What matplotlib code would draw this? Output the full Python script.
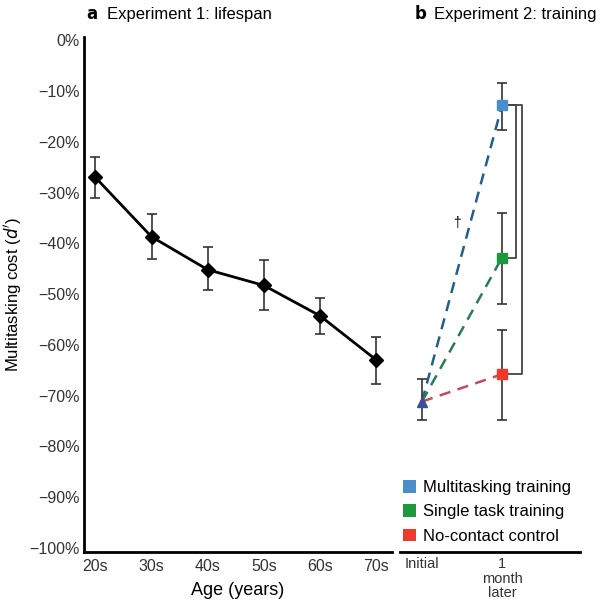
import matplotlib.pyplot as plt
from matplotlib.patches import Patch

plt.rcParams["font.family"] = ["Liberation Sans", "DejaVu Sans"]

# Experiment 1: lifespan
ages = ["20s", "30s", "40s", "50s", "60s", "70s"]
life_cost = [-27, -38.7, -45.2, -48.3, -54.3, -63]
life_err_hi = [-23, -34.2, -40.8, -43.2, -50.8, -58.5]
life_err_lo = [-31, -43, -49.2, -53.2, -57.8, -67.8]

# Experiment 2: training
phases = ["Initial", "1\nmonth\nlater"]
groups = ["Multitasking training", "Single task training", "No-contact control"]
initial_cost = -71.2
initial_err = (-66.8, -74.8)
later_cost = [-12.8, -42.8, -65.8]
later_err_hi = [-8.4, -34, -57]
later_err_lo = [-17.6, -52, -74.8]
marker_colors = ["#4a8fcb", "#1b9a3c", "#ee3a2c"]
line_colors = ["#245f8a", "#2a7a5a", "#c24b55"]

fig = plt.figure(figsize=(6.05, 6.03), dpi=100)
ax1 = fig.add_axes([0.139, 0.085, 0.509, 0.853])
ax2 = fig.add_axes([0.661, 0.085, 0.298, 0.853], sharey=ax1)

# panel a
x1 = list(range(len(ages)))
yerr1 = [[c - lo for c, lo in zip(life_cost, life_err_lo)],
         [hi - c for c, hi in zip(life_cost, life_err_hi)]]
ax1.errorbar(x1, life_cost, yerr=yerr1, color="black", lw=2, marker="D",
             ms=7, ecolor="#333333", elinewidth=1.2, capsize=3.5, capthick=1.2)
ax1.set_xlim(-0.2, 5.28)
ax1.set_ylim(-100.8, 0.6)
ax1.set_yticks(range(-100, 1, 10))
ax1.set_yticklabels([f"\u2212{abs(v)}%" if v else "0%" for v in range(-100, 1, 10)])
ax1.set_xticks(x1)
ax1.set_xticklabels(ages)
ax1.set_xlabel("Age (years)", fontsize=13, labelpad=6)
ax1.set_ylabel("Multitasking cost ($d'$)", fontsize=12, labelpad=4)
for s in ["top", "right"]:
    ax1.spines[s].set_visible(False)
for s in ["left", "bottom"]:
    ax1.spines[s].set_linewidth(2)
ax1.tick_params(length=0, labelsize=11.5, colors="#333333", pad=3)
ax1.tick_params(axis="x", pad=5)
ax1.text(0.005, 1.035, r"$\mathbf{a}$", transform=ax1.transAxes, fontsize=12)
ax1.text(0.075, 1.035, "Experiment 1: lifespan", transform=ax1.transAxes, fontsize=12)

# panel b
for i in range(len(groups)):
    ax2.plot([0, 1], [initial_cost, later_cost[i]], ls=(0, (4.5, 3)),
             color=line_colors[i], lw=1.8)
ax2.errorbar([0], [initial_cost],
             yerr=[[initial_cost - initial_err[1]], [initial_err[0] - initial_cost]],
             fmt="none", ecolor="#333333", elinewidth=1.2, capsize=3.5, capthick=1.2)
ax2.plot([0], [initial_cost], marker="^", ms=7, color="#3a4f9a", ls="none")
for i in range(len(groups)):
    ax2.errorbar([1], [later_cost[i]],
                 yerr=[[later_cost[i] - later_err_lo[i]], [later_err_hi[i] - later_cost[i]]],
                 fmt="s", ms=7, color=marker_colors[i], ecolor="#333333",
                 elinewidth=1.2, capsize=3.5, capthick=1.2)

# significance brackets
for i, bx in [(1, 1.18), (2, 1.25)]:
    ax2.plot([1.07, bx, bx, 1.07], [later_cost[0], later_cost[0], later_cost[i], later_cost[i]],
             color="#444444", lw=1.3)
ax2.text(0.43, -36, "\u2020", fontsize=10, ha="center", va="center")

ax2.set_xlim(-0.275, 1.975)
ax2.set_xticks([0, 1])
ax2.set_xticklabels(phases, fontsize=10.5, linespacing=1.05)
for s in ["top", "right", "left"]:
    ax2.spines[s].set_visible(False)
ax2.spines["bottom"].set_linewidth(2)
ax2.tick_params(length=0, labelleft=False, colors="#333333", pad=4)
ax2.text(0.08, 1.035, r"$\mathbf{b}$", transform=ax2.transAxes, fontsize=12)
ax2.text(0.19, 1.035, "Experiment 2: training", transform=ax2.transAxes, fontsize=12)

handles = [Patch(facecolor=c, edgecolor="none") for c in marker_colors]
ax2.legend(handles, groups, loc="lower left", bbox_to_anchor=(-0.04, -0.004),
           frameon=False, fontsize=12, handlelength=0.8, handleheight=0.8,
           handletextpad=0.4, labelspacing=0.55, borderaxespad=0.2)

fig.savefig("out.png", dpi=100)
